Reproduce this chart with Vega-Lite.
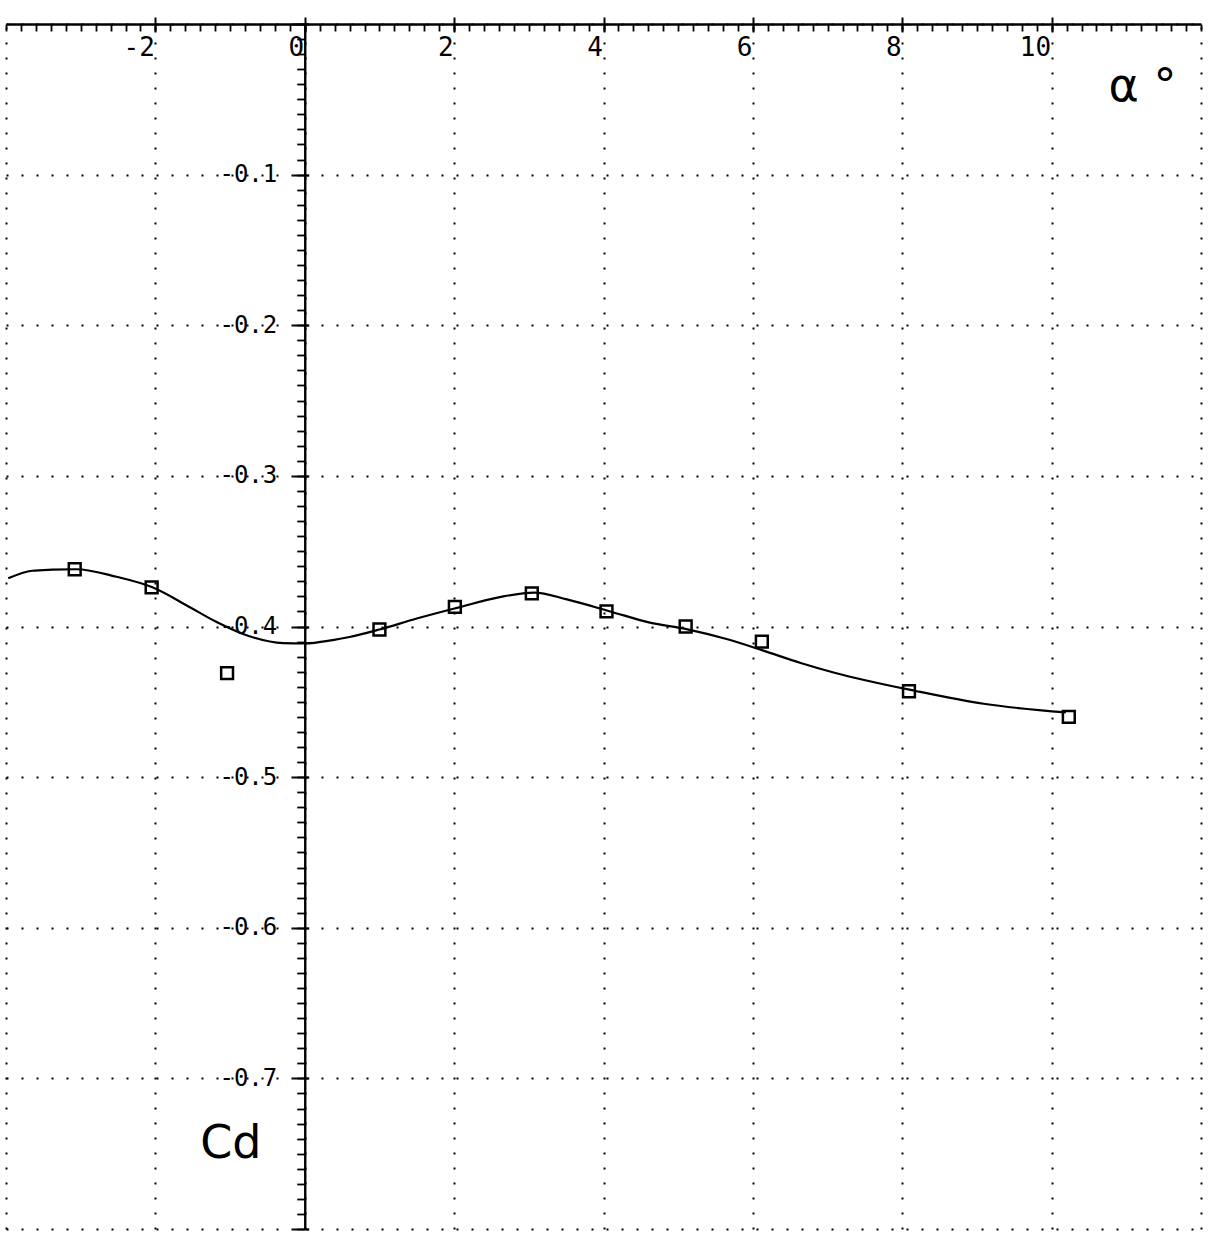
{
  "$schema": "https://vega.github.io/schema/vega-lite/v6.json",
  "width": 1195,
  "height": 1205,
  "autosize": {"type": "none"},
  "padding": {"left": 6, "top": 24, "right": 8, "bottom": 11},
  "background": "white",
  "datasets": {
    "curve": [
      {"alpha": -3.97, "cd": -0.368},
      {"alpha": -3.65, "cd": -0.363},
      {"alpha": -3.38, "cd": -0.3623},
      {"alpha": -3.06, "cd": -0.362},
      {"alpha": -2.52, "cd": -0.367},
      {"alpha": -2.04, "cd": -0.374},
      {"alpha": -1.58, "cd": -0.386},
      {"alpha": -1.18, "cd": -0.397},
      {"alpha": -0.74, "cd": -0.4065},
      {"alpha": -0.29, "cd": -0.411},
      {"alpha": 0.0, "cd": -0.4112},
      {"alpha": 0.375, "cd": -0.409},
      {"alpha": 0.6, "cd": -0.407},
      {"alpha": 1.0, "cd": -0.402},
      {"alpha": 1.5, "cd": -0.3947},
      {"alpha": 2.04, "cd": -0.3876},
      {"alpha": 2.61, "cd": -0.3805},
      {"alpha": 3.07, "cd": -0.3775},
      {"alpha": 3.51, "cd": -0.382},
      {"alpha": 4.09, "cd": -0.39},
      {"alpha": 4.62, "cd": -0.3974},
      {"alpha": 5.11, "cd": -0.4017},
      {"alpha": 5.66, "cd": -0.4085},
      {"alpha": 6.14, "cd": -0.416},
      {"alpha": 6.64, "cd": -0.4242},
      {"alpha": 7.08, "cd": -0.4305},
      {"alpha": 8.18, "cd": -0.4428},
      {"alpha": 9.09, "cd": -0.4513},
      {"alpha": 10.19, "cd": -0.457}
    ],
    "points": [
      {"alpha": -3.08, "cd": -0.362},
      {"alpha": -2.05, "cd": -0.374},
      {"alpha": -1.04, "cd": -0.431},
      {"alpha": 1.0, "cd": -0.402},
      {"alpha": 2.01, "cd": -0.387},
      {"alpha": 3.04, "cd": -0.378},
      {"alpha": 4.04, "cd": -0.39},
      {"alpha": 5.1, "cd": -0.4},
      {"alpha": 6.12, "cd": -0.41},
      {"alpha": 8.09, "cd": -0.443},
      {"alpha": 10.23, "cd": -0.46}
    ]
  },
  "layer": [
    {
      "data": {"name": "curve"},
      "mark": {"type": "line", "interpolate": "monotone", "color": "black", "strokeWidth": 2.2},
      "encoding": {
        "x": {
          "field": "alpha", "type": "quantitative",
          "scale": {"domain": [-4, 12], "nice": false, "zero": false},
          "axis": {
            "orient": "top",
            "values": [-4,-3.8,-3.6,-3.4,-3.2,-3,-2.8,-2.6,-2.4,-2.2,-2,-1.8,-1.6,-1.4,-1.2,-1,-0.8,-0.6,-0.4,-0.2,0,0.2,0.4,0.6,0.8,1,1.2,1.4,1.6,1.8,2,2.2,2.4,2.6,2.8,3,3.2,3.4,3.6,3.8,4,4.2,4.4,4.6,4.8,5,5.2,5.4,5.6,5.8,6,6.2,6.4,6.6,6.8,7,7.2,7.4,7.6,7.8,8,8.2,8.4,8.6,8.8,9,9.2,9.4,9.6,9.8,10,10.2,10.4,10.6,10.8,11,11.2,11.4,11.6,11.8,12],
            "tickSize": -7,
            "tickWidth": 1.8,
            "labels": false,
            "grid": false,
            "domainWidth": 2.4,
            "title": null
          }
        },
        "y": {
          "field": "cd", "type": "quantitative",
          "scale": {"domain": [-0.8, 0], "nice": false, "zero": false},
          "axis": {
            "orient": "left",
            "offset": -298.75,
            "values": [0,-0.01,-0.02,-0.03,-0.04,-0.05,-0.06,-0.07,-0.08,-0.09,-0.1,-0.11,-0.12,-0.13,-0.14,-0.15,-0.16,-0.17,-0.18,-0.19,-0.2,-0.21,-0.22,-0.23,-0.24,-0.25,-0.26,-0.27,-0.28,-0.29,-0.3,-0.31,-0.32,-0.33,-0.34,-0.35,-0.36,-0.37,-0.38,-0.39,-0.4,-0.41,-0.42,-0.43,-0.44,-0.45,-0.46,-0.47,-0.48,-0.49,-0.5,-0.51,-0.52,-0.53,-0.54,-0.55,-0.56,-0.57,-0.58,-0.59,-0.6,-0.61,-0.62,-0.63,-0.64,-0.65,-0.66,-0.67,-0.68,-0.69,-0.7,-0.71,-0.72,-0.73,-0.74,-0.75,-0.76,-0.77,-0.78,-0.79,-0.8],
            "tickSize": 8,
            "tickWidth": 1.8,
            "labels": false,
            "grid": false,
            "domainWidth": 2.4,
            "title": null
          }
        }
      }
    },
    {
      "data": {"name": "points"},
      "mark": {"type": "point", "shape": "square", "filled": false, "color": "black", "strokeWidth": 2.5, "size": 140, "opacity": 1},
      "encoding": {
        "x": {
          "field": "alpha", "type": "quantitative",
          "scale": {"domain": [-4, 12], "nice": false, "zero": false},
          "axis": {
            "orient": "top",
            "offset": -8,
            "values": [-4, -2, 0, 2, 4, 6, 8, 10, 12],
            "tickSize": 15,
            "tickWidth": 2,
            "tickOpacity": {"condition": {"test": "datum.value < -3 || datum.value > 11", "value": 0}, "value": 1},
            "domain": false,
            "labelExpr": "datum.value >= -2 && datum.value <= 10 ? (datum.value < 0 ? '-' + format(-datum.value, 'd') : format(datum.value, 'd')) : ''",
            "labelAlign": "right",
            "labelBaseline": "top",
            "labelPadding": -17,
            "labelOffset": -1,
            "labelFontSize": 26,
            "grid": true,
            "gridDash": [2, 13],
            "gridWidth": 2,
            "title": "α °",
            "titleX": 1102,
            "titleY": 68,
            "titleAlign": "left",
            "titleBaseline": "alphabetic",
            "titleAngle": 0,
            "titleFont": "DejaVu Sans",
            "titleFontSize": 46,
            "titleFontWeight": "normal"
          }
        },
        "y": {
          "field": "cd", "type": "quantitative",
          "scale": {"domain": [-0.8, 0], "nice": false, "zero": false},
          "axis": {
            "orient": "left",
            "offset": -302.75,
            "values": [0, -0.1, -0.2, -0.3, -0.4, -0.5, -0.6, -0.7, -0.8],
            "tickSize": 16,
            "tickWidth": 2,
            "domain": false,
            "labelExpr": "datum.value <= -0.05 && datum.value >= -0.75 ? '-' + format(-datum.value, '.1f') : ''",
            "labelPadding": 16,
            "labelFontSize": 24,
            "grid": true,
            "gridDash": [2, 13],
            "gridWidth": 2,
            "title": "Cd",
            "titleX": -109,
            "titleY": 1133,
            "titleAlign": "left",
            "titleBaseline": "alphabetic",
            "titleAngle": 0,
            "titleFont": "DejaVu Sans",
            "titleFontSize": 46,
            "titleFontWeight": "normal"
          }
        }
      }
    }
  ],
  "resolve": {"axis": {"x": "independent", "y": "independent"}},
  "config": {
    "view": {"stroke": null},
    "axis": {
      "domainColor": "black",
      "tickColor": "black",
      "gridColor": "black",
      "gridOpacity": 1,
      "labelColor": "black",
      "titleColor": "black",
      "labelFont": "DejaVu Sans Mono",
      "labelFontSize": 22,
      "labelFontWeight": "normal"
    }
  }
}
